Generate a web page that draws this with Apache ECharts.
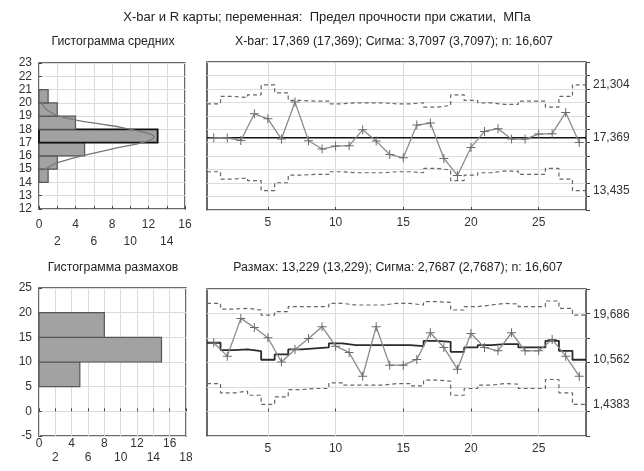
<!DOCTYPE html>
<html><head><meta charset="utf-8">
<script src="https://cdn.jsdelivr.net/npm/echarts@6/dist/echarts.min.js"></script>
<style>html,body{margin:0;padding:0;background:#fff}#c{width:644px;height:471px}</style>
</head><body><div id="c"></div>
<script>
// ---- data ----
const sampleNo = [1,2,3,4,5,6,7,8,9,10,11,12,13,14,15,16,17,18,19,20,21,22,23,24,25,26,27,28];
const xbarValues = [17.37,17.35,17.17,19.15,18.78,17.27,20.02,17.15,16.53,16.75,16.78,17.96,17.12,16.13,15.88,18.31,18.46,15.83,14.57,16.65,17.84,18.04,17.27,17.27,17.64,17.67,19.25,17.02];
const xbarUCL = [19.894,20.438,20.364,20.562,21.304,20.711,20.141,20.092,20.092,19.894,19.968,19.968,19.968,19.894,19.894,19.968,19.646,19.77,20.562,20.141,19.968,19.844,19.844,20.092,20.092,19.646,20.438,21.304];
const xbarLCL = [14.844,14.300,14.374,14.176,13.435,14.027,14.597,14.646,14.646,14.844,14.770,14.770,14.770,14.844,14.844,14.770,15.092,14.968,14.176,14.597,14.770,14.894,14.894,14.646,14.646,15.092,14.300,13.435];
const xbarCenter = 17.369;
const xbarRightTicks = [21.304, 17.369, 13.435];
const xbarRightLabels = ['21,304', '17,369', '13,435'];

const rangeValues = [14.03,11.30,19.0,17.16,15.05,10.1,12.66,14.91,17.30,13.34,12.05,7.21,17.30,9.46,9.46,10.62,16.07,13.07,8.64,15.93,13.07,12.39,16.07,12.39,12.39,14.71,11.30,7.21];
const rangeCenter = [14.03,12.53,12.66,12.32,10.562,11.64,12.66,12.87,13.07,13.89,13.55,13.55,13.55,13.55,13.55,13.34,14.43,14.23,12.18,13.07,13.55,13.75,13.75,13.07,13.07,14.43,12.39,10.562];
const rangeUCL = [22.07,20.91,21.05,20.71,19.686,20.37,21.39,21.39,21.39,22.07,21.73,21.73,21.73,22.07,22.07,21.73,22.41,22.27,20.71,21.39,21.73,22.07,21.93,21.39,21.39,22.55,21.05,19.686];
const rangeLCL = [5.70,3.80,4.14,3.32,1.4383,2.98,4.48,4.69,4.69,5.85,5.37,5.37,5.37,5.70,5.70,5.23,6.39,6.19,3.32,4.69,5.37,5.70,5.57,4.69,4.69,6.53,3.80,1.4383];
const rangeRightTicks = [19.686, 10.562, 1.4383];
const rangeRightLabels = ['19,686', '10,562', '1,4383'];

const meanBinEdges = [14,15,16,17,18,19,20,21];
const meanBinCounts = [1,2,5,13,4,2,1];
const meanCurveCount = [0.2,0.8,1.9,4.05,6.8,9.5,12.3,12.6,11.7,8.4,5.15,1.9,0.6];
const meanCurveValue = [20.1,19.5,19.08,18.7,18.4,18.08,17.62,17.45,17.08,16.58,16.07,15.45,14.94];

const rangeBinEdges = [5,10,15,20];
const rangeBinCounts = [5,15,8];

const chartXTicks = [5,10,15,20,25];

const titleMain = 'X-bar и R карты; переменная:  Предел прочности при сжатии,  МПа';
const titleHist1 = 'Гистограмма средних';
const titleChart1 = 'X-bar: 17,369 (17,369); Сигма: 3,7097 (3,7097); n: 16,607';
const titleHist2 = 'Гистограмма размахов';
const titleChart2 = 'Размах: 13,229 (13,229); Сигма: 2,7687 (2,7687); n: 16,607';

// ---- chart ----
const FONT = "'Liberation Sans', Arial, sans-serif";
const TXT = '#333';
const GRIDC = '#dcdcdc';

function steps(vals) {
  const out = [];
  vals.forEach((v, i) => { out.push([sampleNo[i] - 0.5, v]); out.push([sampleNo[i] + 0.5, v]); });
  return out;
}
function histSeries(xi, yi, edges, counts, darkIdx) {
  return {
    type: 'custom', xAxisIndex: xi, yAxisIndex: yi, silent: true,
    data: counts.map((c, i) => [c, edges[i], edges[i + 1], i === darkIdx ? 1 : 0]),
    encode: { x: 0, y: [1, 2] },
    renderItem: (params, api) => {
      const a = api.coord([0, api.value(2)]);
      const b = api.coord([api.value(0), api.value(1)]);
      const dark = api.value(3) === 1;
      return { type: 'rect', shape: { x: a[0], y: a[1], width: b[0] - a[0], height: b[1] - a[1] },
        style: { fill: '#a2a2a2', stroke: dark ? '#111' : '#555', lineWidth: dark ? 1.8 : 1.2 } };
    }
  };
}
const plusSymbol = 'path://M4,0h1v4h4v1h-4v4h-1v-4h-4v-1h4z';

function histX(idx, max, margin, lh) {
  return { gridIndex: idx, type: 'value', min: 0, max: max, interval: 2,
    axisLine: { show: false },
    axisTick: { show: true, inside: true, length: 3, lineStyle: { color: '#444' } },
    splitLine: { show: true, lineStyle: { color: GRIDC, width: 1 } },
    axisLabel: { margin: margin, fontSize: 12, fontFamily: FONT, color: TXT, lineHeight: lh,
      formatter: v => (v % 4 === 0 ? String(v) : '\n' + v) } };
}
function histY(idx, min, max, interval) {
  return { gridIndex: idx, type: 'value', min: min, max: max, interval: interval,
    axisLine: { show: false },
    axisTick: { show: true, inside: true, length: 3, lineStyle: { color: '#444' } },
    splitLine: { show: true, lineStyle: { color: GRIDC, width: 1 } },
    axisLabel: { margin: 7, fontSize: 12, fontFamily: FONT, color: TXT } };
}
function chartX(idx) {
  return { gridIndex: idx, type: 'value', min: 0.5, max: 28.5,
    axisLine: { show: false },
    axisTick: { show: true, inside: true, length: 3, customValues: chartXTicks, lineStyle: { color: '#444' } },
    splitLine: { show: true, lineStyle: { color: GRIDC, width: 1 } },
    axisLabel: { customValues: chartXTicks, margin: 7, fontSize: 12, fontFamily: FONT, color: TXT } };
}
function chartY(idx, min, max, interval, ticks, labels) {
  return { gridIndex: idx, type: 'value', position: 'right', min: min, max: max, interval: interval,
    axisLine: { show: false },
    axisTick: { show: true, inside: false, length: 4, lineStyle: { color: '#444' } },
    splitLine: { show: true, lineStyle: { color: GRIDC, width: 1 } },
    axisLabel: { customValues: ticks, margin: 7, fontSize: 12, fontFamily: FONT, color: TXT,
      formatter: v => { const k = ticks.findIndex(t => Math.abs(t - v) < 1e-6); return k >= 0 ? labels[k] : ''; } } };
}
function gridBox(l, t, w, h) {
  return { left: l, top: t, width: w, height: h, show: true, borderColor: '#3a3a3a', borderWidth: 1.5,
    backgroundColor: 'transparent', containLabel: false, outerBoundsMode: 'none' };
}
function title(text, x, y, size) {
  return { text: text, left: x, top: y, textAlign: 'center', padding: 0,
    textStyle: { fontSize: size, fontWeight: 'normal', fontFamily: FONT, color: '#222' } };
}
const dashStyle = { color: '#666', width: 1.2, type: [4, 3] };

const option = {
  backgroundColor: '#fff',
  animation: false,
  title: [
    title(titleMain, 327, 11, 13),
    title(titleHist1, 113, 36, 12.3),
    title(titleChart1, 394, 36, 12.3),
    title(titleHist2, 113, 262, 12.3),
    title(titleChart2, 398, 262, 12.3)
  ],
  grid: [
    gridBox(39, 63, 146, 146),
    gridBox(207, 62, 379, 148),
    gridBox(39, 288, 147, 148),
    gridBox(207, 289, 379, 147)
  ],
  xAxis: [histX(0, 16, 7, 17), chartX(1), histX(2, 18, 1, 14), chartX(3)],
  yAxis: [histY(0, 12, 23, 1),
          chartY(1, 12, 23, 1, xbarRightTicks, xbarRightLabels),
          histY(2, -5, 25, 5),
          chartY(3, -5, 25, 5, rangeRightTicks, rangeRightLabels)],
  series: [
    histSeries(0, 0, meanBinEdges, meanBinCounts, 3),
    { type: 'line', xAxisIndex: 0, yAxisIndex: 0, smooth: 0.4, symbol: 'none', silent: true,
      data: meanCurveCount.map((c, i) => [c, meanCurveValue[i]]),
      lineStyle: { color: '#777', width: 1.3 } },

    { type: 'line', xAxisIndex: 1, yAxisIndex: 1, symbol: 'none', silent: true, data: steps(xbarUCL), lineStyle: dashStyle },
    { type: 'line', xAxisIndex: 1, yAxisIndex: 1, symbol: 'none', silent: true, data: steps(xbarLCL), lineStyle: dashStyle },
    { type: 'line', xAxisIndex: 1, yAxisIndex: 1, symbol: 'none', silent: true,
      data: [[0.5, xbarCenter], [28.5, xbarCenter]], lineStyle: { color: '#111', width: 1.5 } },
    { type: 'line', xAxisIndex: 1, yAxisIndex: 1, silent: true,
      data: xbarValues.map((v, i) => [sampleNo[i], v]),
      lineStyle: { color: '#8a8a8a', width: 1.3 },
      symbol: plusSymbol, symbolSize: 9, showAllSymbol: true,
      itemStyle: { color: '#6a6a6a' } },

    histSeries(2, 2, rangeBinEdges, rangeBinCounts, -1),

    { type: 'line', xAxisIndex: 3, yAxisIndex: 3, symbol: 'none', silent: true, data: steps(rangeUCL), lineStyle: dashStyle },
    { type: 'line', xAxisIndex: 3, yAxisIndex: 3, symbol: 'none', silent: true, data: steps(rangeLCL), lineStyle: dashStyle },
    { type: 'line', xAxisIndex: 3, yAxisIndex: 3, symbol: 'none', silent: true, data: steps(rangeCenter),
      lineStyle: { color: '#2a2a2a', width: 1.8 } },
    { type: 'line', xAxisIndex: 3, yAxisIndex: 3, silent: true,
      data: rangeValues.map((v, i) => [sampleNo[i], v]),
      lineStyle: { color: '#8a8a8a', width: 1.3 },
      symbol: plusSymbol, symbolSize: 9, showAllSymbol: true,
      itemStyle: { color: '#6a6a6a' } }
  ]
};
const chart = echarts.init(document.getElementById('c'), null, { renderer: 'canvas' });
chart.setOption(option);
</script>
</body></html>
